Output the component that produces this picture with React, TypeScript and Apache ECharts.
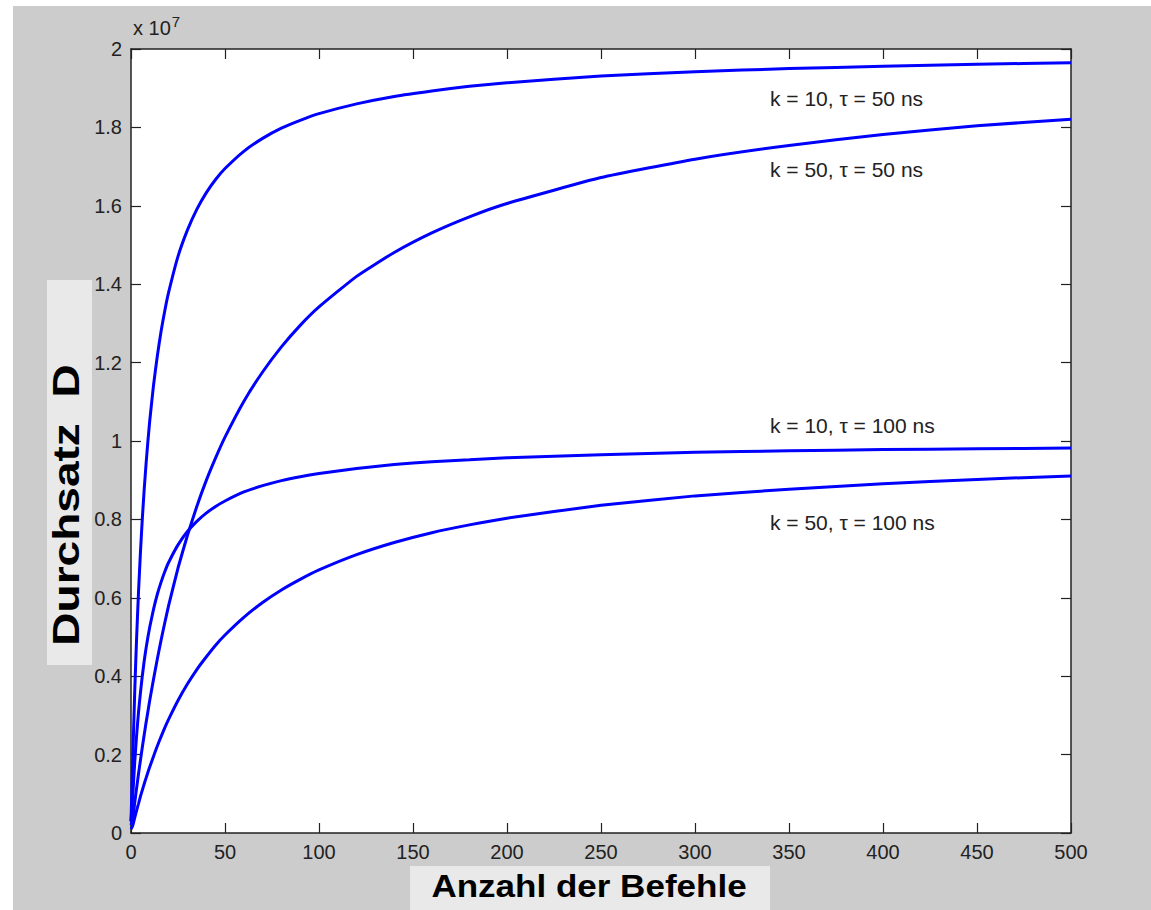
import React, { useEffect, useRef } from "react";
import * as echarts from "echarts";

// Anzahl der Befehle (n)
const nValues = [0, 1, 2, 3, 4, 5, 6, 7, 8, 9, 10, 12, 14, 16, 18, 20, 25, 30, 35, 40, 45, 50, 60, 70, 80, 90, 100, 120, 140, 160, 180, 200, 250, 300, 350, 400, 450, 500];
// Durchsatz in units of 1e7
const k10t50 = [0.03, 0.2, 0.364, 0.5, 0.615, 0.714, 0.8, 0.875, 0.941, 1.0, 1.053, 1.143, 1.217, 1.28, 1.333, 1.379, 1.471, 1.538, 1.591, 1.633, 1.667, 1.695, 1.739, 1.772, 1.798, 1.818, 1.835, 1.86, 1.879, 1.893, 1.905, 1.914, 1.931, 1.942, 1.95, 1.956, 1.961, 1.965];
const k50t50 = [0.02, 0.04, 0.078, 0.115, 0.151, 0.185, 0.218, 0.25, 0.281, 0.31, 0.339, 0.393, 0.444, 0.492, 0.537, 0.58, 0.676, 0.759, 0.833, 0.899, 0.957, 1.01, 1.101, 1.176, 1.24, 1.295, 1.342, 1.42, 1.481, 1.531, 1.572, 1.606, 1.672, 1.719, 1.754, 1.782, 1.804, 1.821];
const k10t100 = [0.03, 0.1, 0.182, 0.25, 0.308, 0.357, 0.4, 0.438, 0.471, 0.5, 0.526, 0.571, 0.609, 0.64, 0.667, 0.69, 0.735, 0.769, 0.795, 0.816, 0.833, 0.847, 0.87, 0.886, 0.899, 0.909, 0.917, 0.93, 0.94, 0.947, 0.952, 0.957, 0.965, 0.971, 0.975, 0.978, 0.98, 0.982];
const k50t100 = [0.01, 0.02, 0.039, 0.058, 0.075, 0.093, 0.109, 0.125, 0.14, 0.155, 0.169, 0.196, 0.222, 0.246, 0.269, 0.29, 0.338, 0.38, 0.417, 0.449, 0.479, 0.505, 0.55, 0.588, 0.62, 0.647, 0.671, 0.71, 0.741, 0.766, 0.786, 0.803, 0.836, 0.86, 0.877, 0.891, 0.902, 0.911];

const seriesNames = ["k = 10, τ = 50 ns", "k = 50, τ = 50 ns", "k = 10, τ = 100 ns", "k = 50, τ = 100 ns"];
const seriesValues = [k10t50, k50t50, k10t100, k50t100];

const xTitle = "Anzahl der Befehle";
const yTitle = "Durchsatz  D";

const FONT = "'Liberation Sans', Arial, sans-serif";

export default function App() {
  const ref = useRef<HTMLDivElement>(null);
  useEffect(() => {
    const chart = echarts.init(ref.current!, null, { renderer: "svg" });
    const axisLine = { show: true, onZero: false, lineStyle: { color: "#222", width: 1.5 } };
    const axisTick = { show: true, inside: true, length: 10, lineStyle: { color: "#222", width: 1.2 } };
    const labelStyle = { fontSize: 20, color: "#222", fontFamily: FONT };
    const labelY = [92, 163, 419, 516];
    chart.setOption({
      animation: false,
      backgroundColor: "#cccccc",
      grid: { left: 118, right: 80, top: 43, bottom: 77, show: true, backgroundColor: "#ffffff", borderWidth: 0 },
      xAxis: [
        {
          type: "value", min: 0, max: 500, interval: 50, position: "bottom",
          axisLine, axisTick, splitLine: { show: false },
          axisLabel: { ...labelStyle, margin: 9 },
        },
        {
          type: "value", min: 0, max: 500, interval: 50, position: "top",
          axisLine, axisTick, splitLine: { show: false }, axisLabel: { show: false },
        },
      ],
      yAxis: [
        {
          type: "value", min: 0, max: 2, interval: 0.2, position: "left",
          axisLine, axisTick, splitLine: { show: false },
          axisLabel: { ...labelStyle, margin: 9 },
        },
        {
          type: "value", min: 0, max: 2, interval: 0.2, position: "right",
          axisLine, axisTick, splitLine: { show: false }, axisLabel: { show: false },
        },
      ],
      series: seriesValues.map((vals, si) => ({
        type: "line",
        name: seriesNames[si],
        data: nValues.map((n, i) => [n, vals[i]]),
        showSymbol: false,
        smooth: 0.15,
        lineStyle: { color: "#0000ff", width: 3 },
        z: 3,
      })),
      graphic: [
        { type: "rect", shape: { x: 34, y: 274, width: 45, height: 385 }, style: { fill: "#e9e9e9" }, z: 1 },
        {
          type: "text", x: 54, y: 499, rotation: Math.PI / 2, scaleX: 1.28, z: 2,
          style: { text: yTitle, fontSize: 36, fontWeight: "bold", fontFamily: FONT, fill: "#000", align: "center", verticalAlign: "middle" },
        },
        { type: "rect", shape: { x: 397, y: 860, width: 360, height: 50 }, style: { fill: "#e9e9e9" }, z: 1 },
        {
          type: "text", x: 576, y: 880, scaleX: 1.13, z: 2,
          style: { text: xTitle, fontSize: 31, fontWeight: "bold", fontFamily: FONT, fill: "#000", align: "center", verticalAlign: "middle" },
        },
        {
          type: "text", x: 120, y: 22, z: 2,
          style: {
            text: "x 10{sup|7}", fontSize: 20, fontFamily: FONT, fill: "#222", align: "left", verticalAlign: "middle",
            rich: { sup: { fontSize: 15, fontFamily: FONT, fill: "#222", padding: [0, 0, 14, 1] } },
          },
        },
        ...seriesNames.map((name, i) => ({
          type: "text", x: 757, y: labelY[i], z: 4,
          style: { text: name, fontSize: 21, fontFamily: FONT, fill: "#222", align: "left", verticalAlign: "middle" },
        })),
      ],
    });
    return () => chart.dispose();
  }, []);
  return (
    <div
      ref={ref}
      style={{ position: "absolute", left: 13, top: 6, width: 1138, height: 904 }}
    />
  );
}
